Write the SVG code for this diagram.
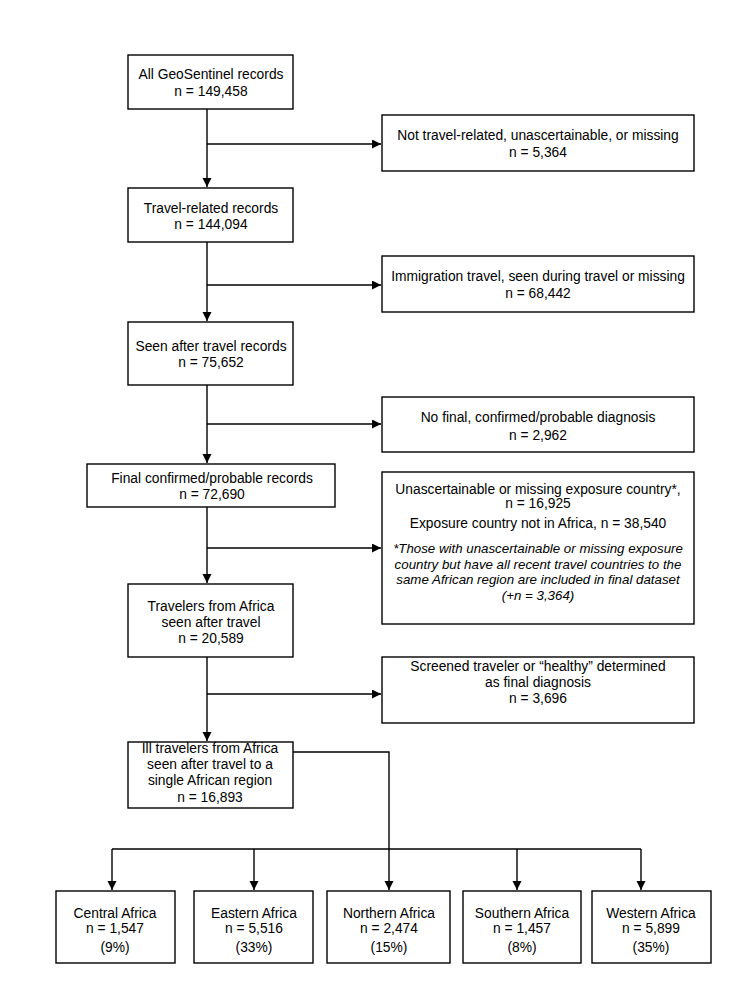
<svg xmlns="http://www.w3.org/2000/svg" width="750" height="1000" viewBox="0 0 750 1000">
<defs>
<style>
.box{fill:#fff;stroke:#000;stroke-width:1.4}
.t{font-family:"Liberation Sans",Arial,sans-serif;font-size:13.8px;fill:#000;text-anchor:middle}
.i{font-style:italic;font-size:13.3px}
.c{fill:none;stroke:#000;stroke-width:1.4}
</style>
<marker id="ah" markerWidth="10" markerHeight="10" refX="9" refY="4.5" orient="auto" markerUnits="userSpaceOnUse">
<path d="M0,0 L9,4.5 L0,9 Z" fill="#000"/>
</marker>
</defs>
<rect width="750" height="1000" fill="#fff"/>
<g id="connectors">
<path class="c" d="M207,109 V187" marker-end="url(#ah)"/>
<path class="c" d="M207,144 H381" marker-end="url(#ah)"/>
<path class="c" d="M207,242 V321" marker-end="url(#ah)"/>
<path class="c" d="M207,285 H381" marker-end="url(#ah)"/>
<path class="c" d="M207,385 V463" marker-end="url(#ah)"/>
<path class="c" d="M207,424 H381" marker-end="url(#ah)"/>
<path class="c" d="M207,507 V583" marker-end="url(#ah)"/>
<path class="c" d="M207,548 H381" marker-end="url(#ah)"/>
<path class="c" d="M207,657 V741" marker-end="url(#ah)"/>
<path class="c" d="M207,694 H381" marker-end="url(#ah)"/>
<path class="c" d="M293,752 H389 V890" marker-end="url(#ah)"/>
<path class="c" d="M112,849 H641"/>
<path class="c" d="M112,849 V890" marker-end="url(#ah)"/>
<path class="c" d="M254,849 V890" marker-end="url(#ah)"/>
<path class="c" d="M517,849 V890" marker-end="url(#ah)"/>
<path class="c" d="M641,849 V890" marker-end="url(#ah)"/>
</g>
<g id="n1"><rect class="box" x="128" y="55" width="165" height="54"/>
<text class="t" x="211" y="79">All GeoSentinel records</text><text class="t" x="211" y="96">n = 149,458</text></g>
<g id="n2"><rect class="box" x="382" y="115" width="312" height="56"/>
<text class="t" x="538" y="140">Not travel-related, unascertainable, or missing</text><text class="t" x="538" y="157">n = 5,364</text></g>
<g id="n3"><rect class="box" x="128" y="188" width="165" height="54"/>
<text class="t" x="211" y="213">Travel-related records</text><text class="t" x="211" y="229">n = 144,094</text></g>
<g id="n4"><rect class="box" x="382" y="256" width="312" height="56"/>
<text class="t" x="538" y="281">Immigration travel, seen during travel or missing</text><text class="t" x="538" y="298">n = 68,442</text></g>
<g id="n5"><rect class="box" x="128" y="322" width="165" height="63"/>
<text class="t" x="211" y="351">Seen after travel records</text><text class="t" x="211" y="367">n = 75,652</text></g>
<g id="n6"><rect class="box" x="382" y="397" width="312" height="55"/>
<text class="t" x="538" y="422">No final, confirmed/probable diagnosis</text><text class="t" x="538" y="440">n = 2,962</text></g>
<g id="n7"><rect class="box" x="87" y="464" width="248" height="43"/>
<text class="t" x="212" y="483">Final confirmed/probable records</text><text class="t" x="212" y="499">n = 72,690</text></g>
<g id="n8"><rect class="box" x="382" y="472" width="312" height="152"/>
<text class="t" x="538" y="494">Unascertainable or missing exposure country*,</text>
<text class="t" x="538" y="508">n = 16,925</text>
<text class="t" x="538" y="528">Exposure country not in Africa, n = 38,540</text>
<text class="t i" x="538" y="553">*Those with unascertainable or missing exposure</text>
<text class="t i" x="538" y="569">country but have all recent travel countries to the</text>
<text class="t i" x="538" y="584">same African region are included in final dataset</text>
<text class="t i" x="538" y="600">(+n = 3,364)</text></g>
<g id="n9"><rect class="box" x="128" y="584" width="165" height="73"/>
<text class="t" x="211" y="611">Travelers from Africa</text><text class="t" x="211" y="627">seen after travel</text><text class="t" x="211" y="643">n = 20,589</text></g>
<g id="n10"><rect class="box" x="382" y="657" width="312" height="66"/>
<text class="t" x="538" y="671">Screened traveler or “healthy” determined</text><text class="t" x="538" y="687">as final diagnosis</text><text class="t" x="538" y="703">n = 3,696</text></g>
<g id="n11"><rect class="box" x="128" y="742" width="165" height="66"/>
<text class="t" x="210" y="753">Ill travelers from Africa</text><text class="t" x="210" y="769">seen after travel to a</text><text class="t" x="210" y="785">single African region</text><text class="t" x="210" y="802">n = 16,893</text></g>
<g id="central"><rect class="box" x="56" y="891" width="119" height="72"/>
<text class="t" x="115" y="918">Central Africa</text><text class="t" x="115" y="933">n = 1,547</text><text class="t" x="115" y="952">(9%)</text></g>
<g id="eastern"><rect class="box" x="194" y="891" width="119" height="72"/>
<text class="t" x="254" y="918">Eastern Africa</text><text class="t" x="254" y="933">n = 5,516</text><text class="t" x="254" y="952">(33%)</text></g>
<g id="northern"><rect class="box" x="327" y="891" width="123" height="72"/>
<text class="t" x="389" y="918">Northern Africa</text><text class="t" x="389" y="933">n = 2,474</text><text class="t" x="389" y="952">(15%)</text></g>
<g id="southern"><rect class="box" x="463" y="891" width="118" height="72"/>
<text class="t" x="522" y="918">Southern Africa</text><text class="t" x="522" y="933">n = 1,457</text><text class="t" x="522" y="952">(8%)</text></g>
<g id="western"><rect class="box" x="592" y="891" width="119" height="72"/>
<text class="t" x="651" y="918">Western Africa</text><text class="t" x="651" y="933">n = 5,899</text><text class="t" x="651" y="952">(35%)</text></g>
</svg>
